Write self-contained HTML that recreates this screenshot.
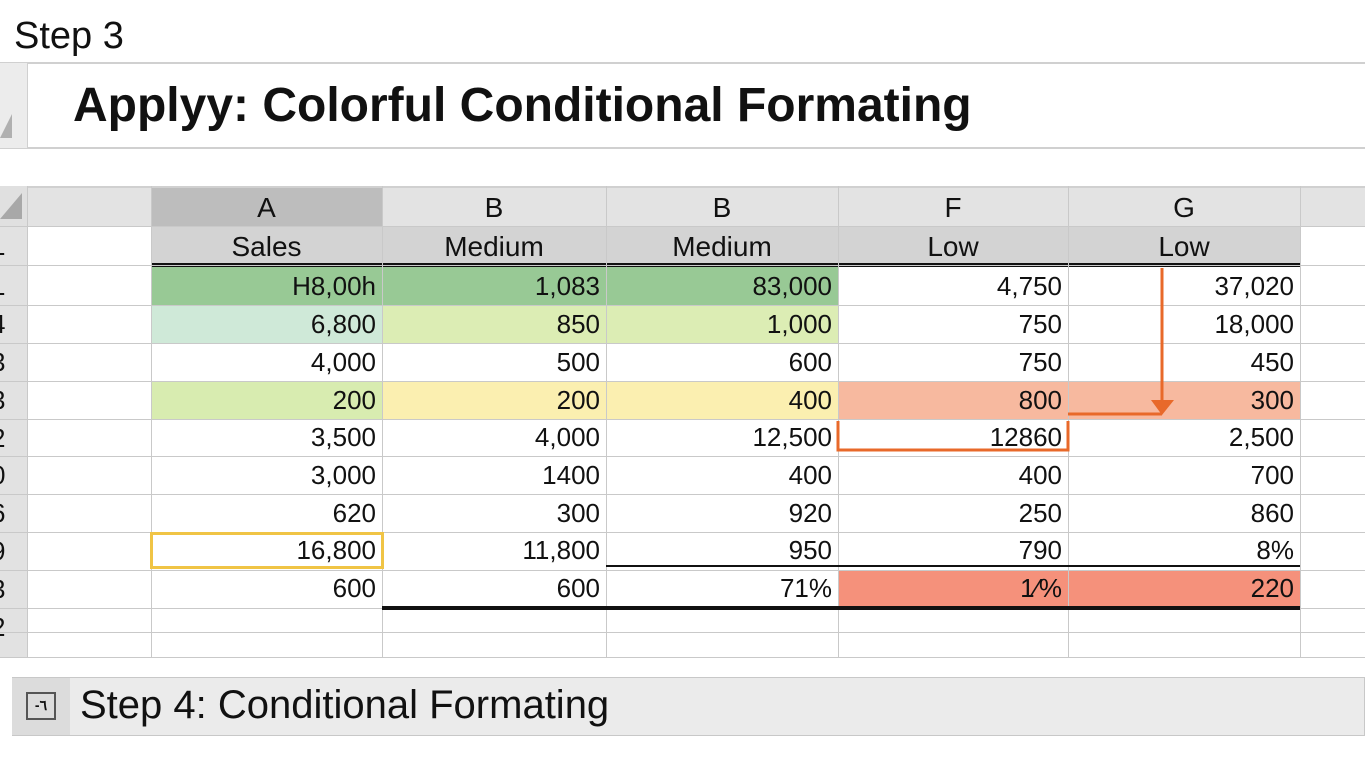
<!DOCTYPE html>
<html><head><meta charset="utf-8"><style>
body{margin:0;width:1365px;height:768px;background:#fff;position:relative;overflow:hidden;font-family:"Liberation Sans",Arial,sans-serif;color:#111}
div{position:absolute;box-sizing:border-box}
.c{font-size:26px;text-align:right;padding-right:6px;line-height:38px}
.h{font-size:28px;text-align:center;line-height:39px}
.vl{width:1px;background:#c9c9c9}
.hz{height:1px;background:#c9c9c9}
.rn{font-size:26px;line-height:38px;left:-9px;width:30px}
</style></head><body>
<div style="left:14px;top:12px;font-size:38px;line-height:48px">Step 3</div>
<div style="left:0;top:62px;width:1365px;height:87px;border-top:2px solid #d0d0d0;border-bottom:2px solid #d0d0d0"></div>
<div style="left:0;top:63px;width:28px;height:85px;background:#ececec;border-right:1px solid #d0d0d0"></div>
<div style="left:0;top:114px;border-left:12px solid transparent;border-bottom:24px solid #b0b0b0"></div>
<div style="left:73px;top:77px;font-size:48px;font-weight:bold;line-height:58px">Applyy: Colorful Conditional Formating</div>

<div style="left:0;top:186px;width:1365px;height:40px;background:#e3e3e3;border-top:2px solid #d0d0d0"></div>
<div style="left:0;top:186px;width:28px;height:40px;background:#e0e0e0"></div>
<div style="left:0;top:193px;border-left:22px solid transparent;border-bottom:26px solid #a8a8a8"></div>
<div style="left:151px;top:188px;width:231px;height:38px;background:#bdbdbd"></div>
<div style="left:151px;top:226px;width:1149px;height:39px;background:#d3d3d3"></div>
<div style="left:0;top:226px;width:28px;height:431px;background:#e2e2e2"></div>
<div class="h" style="left:151px;top:188px;width:231px">A</div>
<div class="h" style="left:382px;top:188px;width:224px">B</div>
<div class="h" style="left:606px;top:188px;width:232px">B</div>
<div class="h" style="left:838px;top:188px;width:230px">F</div>
<div class="h" style="left:1068px;top:188px;width:232px">G</div>
<div class="h" style="left:151px;top:227px;width:231px">Sales</div>
<div class="h" style="left:382px;top:227px;width:224px">Medium</div>
<div class="h" style="left:606px;top:227px;width:232px">Medium</div>
<div class="h" style="left:838px;top:227px;width:230px">Low</div>
<div class="h" style="left:1068px;top:227px;width:232px">Low</div>
<div style="left:151px;top:263px;width:1149px;height:4px;background:#111"></div>

<div style="left:151px;top:267px;width:687px;height:38px;background:#98c995"></div>
<div style="left:151px;top:305px;width:231px;height:38px;background:#cfe9d8"></div>
<div style="left:382px;top:305px;width:456px;height:38px;background:#dcedb4"></div>
<div style="left:151px;top:381px;width:231px;height:38px;background:#d8ecb0"></div>
<div style="left:382px;top:381px;width:456px;height:38px;background:#fbefb0"></div>
<div style="left:838px;top:381px;width:462px;height:38px;background:#f7b99f"></div>
<div style="left:838px;top:570px;width:462px;height:38px;background:#f5917b"></div>

<div class="vl" style="left:27px;top:186px;height:471px"></div>
<div class="vl" style="left:151px;top:186px;height:471px"></div>
<div class="vl" style="left:382px;top:186px;height:471px"></div>
<div class="vl" style="left:606px;top:186px;height:471px"></div>
<div class="vl" style="left:838px;top:186px;height:471px"></div>
<div class="vl" style="left:1068px;top:186px;height:471px"></div>
<div class="vl" style="left:1300px;top:186px;height:471px"></div>
<div class="hz" style="left:0;top:226px;width:1365px"></div>
<div class="hz" style="left:0;top:265px;width:1365px"></div>
<div class="hz" style="left:0;top:305px;width:1365px"></div>
<div class="hz" style="left:0;top:343px;width:1365px"></div>
<div class="hz" style="left:0;top:381px;width:1365px"></div>
<div class="hz" style="left:0;top:419px;width:1365px"></div>
<div class="hz" style="left:0;top:456px;width:1365px"></div>
<div class="hz" style="left:0;top:494px;width:1365px"></div>
<div class="hz" style="left:0;top:532px;width:1365px"></div>
<div class="hz" style="left:0;top:570px;width:1365px"></div>
<div class="hz" style="left:0;top:608px;width:1365px"></div>
<div class="hz" style="left:0;top:632px;width:1365px"></div>
<div class="hz" style="left:0;top:657px;width:1365px"></div>

<div class="rn" style="top:227px">1</div>
<div class="rn" style="top:267px">1</div>
<div class="rn" style="top:305px">4</div>
<div class="rn" style="top:343px">3</div>
<div class="rn" style="top:381px">3</div>
<div class="rn" style="top:419px">2</div>
<div class="rn" style="top:456px">0</div>
<div class="rn" style="top:494px">6</div>
<div class="rn" style="top:532px">9</div>
<div class="rn" style="top:570px">3</div>
<div class="rn" style="top:608px">2</div>

<div class="c" style="left:151px;top:267px;width:231px">H8,00h</div><div class="c" style="left:382px;top:267px;width:224px">1,083</div><div class="c" style="left:606px;top:267px;width:232px">83,000</div><div class="c" style="left:838px;top:267px;width:230px">4,750</div><div class="c" style="left:1068px;top:267px;width:232px">37,020</div>
<div class="c" style="left:151px;top:305px;width:231px">6,800</div><div class="c" style="left:382px;top:305px;width:224px">850</div><div class="c" style="left:606px;top:305px;width:232px">1,000</div><div class="c" style="left:838px;top:305px;width:230px">750</div><div class="c" style="left:1068px;top:305px;width:232px">18,000</div>
<div class="c" style="left:151px;top:343px;width:231px">4,000</div><div class="c" style="left:382px;top:343px;width:224px">500</div><div class="c" style="left:606px;top:343px;width:232px">600</div><div class="c" style="left:838px;top:343px;width:230px">750</div><div class="c" style="left:1068px;top:343px;width:232px">450</div>
<div class="c" style="left:151px;top:381px;width:231px">200</div><div class="c" style="left:382px;top:381px;width:224px">200</div><div class="c" style="left:606px;top:381px;width:232px">400</div><div class="c" style="left:838px;top:381px;width:230px">800</div><div class="c" style="left:1068px;top:381px;width:232px">300</div>
<div class="c" style="left:151px;top:418px;width:231px">3,500</div><div class="c" style="left:382px;top:418px;width:224px">4,000</div><div class="c" style="left:606px;top:418px;width:232px">12,500</div><div class="c" style="left:838px;top:418px;width:230px">12860</div><div class="c" style="left:1068px;top:418px;width:232px">2,500</div>
<div class="c" style="left:151px;top:456px;width:231px">3,000</div><div class="c" style="left:382px;top:456px;width:224px">1400</div><div class="c" style="left:606px;top:456px;width:232px">400</div><div class="c" style="left:838px;top:456px;width:230px">400</div><div class="c" style="left:1068px;top:456px;width:232px">700</div>
<div class="c" style="left:151px;top:494px;width:231px">620</div><div class="c" style="left:382px;top:494px;width:224px">300</div><div class="c" style="left:606px;top:494px;width:232px">920</div><div class="c" style="left:838px;top:494px;width:230px">250</div><div class="c" style="left:1068px;top:494px;width:232px">860</div>
<div class="c" style="left:151px;top:531px;width:231px">16,800</div><div class="c" style="left:382px;top:531px;width:224px">11,800</div><div class="c" style="left:606px;top:531px;width:232px">950</div><div class="c" style="left:838px;top:531px;width:230px">790</div><div class="c" style="left:1068px;top:531px;width:232px">8%</div>
<div class="c" style="left:151px;top:569px;width:231px">600</div><div class="c" style="left:382px;top:569px;width:224px">600</div><div class="c" style="left:606px;top:569px;width:232px">71%</div><div class="c" style="left:838px;top:569px;width:230px">1⁄%</div><div class="c" style="left:1068px;top:569px;width:232px">220</div>

<div style="left:150px;top:532px;width:234px;height:37px;border:3px solid #f0c445"></div>
<div style="left:606px;top:565px;width:694px;height:2px;background:#111"></div>
<div style="left:382px;top:606px;width:918px;height:4px;background:#111"></div>

<svg style="position:absolute;left:0;top:0" width="1365" height="768">
<g stroke="#e8692a" stroke-width="3" fill="none">
<polyline points="1162,268 1162,402"/>
<polyline points="1068,414 1162,414"/>
<polyline points="838,421 838,450 1068,450 1068,421"/>
</g>
<polygon points="1151,400 1174,400 1162,415" fill="#e8692a"/>
</svg>

<div style="left:12px;top:677px;width:1353px;height:59px;background:#ebebeb;border:1px solid #c8c8c8"></div>
<div style="left:12px;top:678px;width:58px;height:57px;background:#dcdcdc"></div>
<div style="left:26px;top:692px;width:30px;height:28px;border:2px solid #555;font-size:14px;line-height:22px;text-align:center;font-weight:bold">-٦</div>
<div style="left:80px;top:680px;font-size:40px;line-height:50px">Step 4: Conditional Formating</div>
</body></html>
